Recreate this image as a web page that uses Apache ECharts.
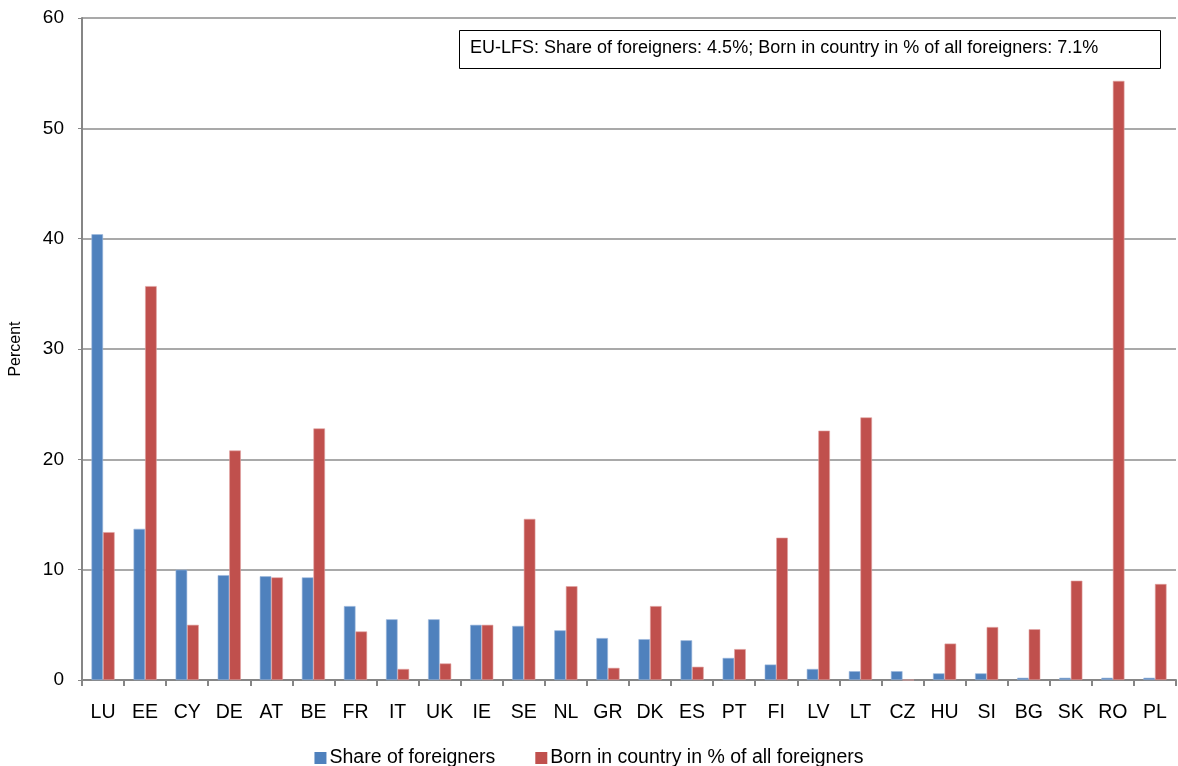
<!DOCTYPE html>
<html>
<head>
<meta charset="utf-8">
<script src="https://cdn.jsdelivr.net/npm/echarts@6/dist/echarts.min.js"></script>
<style>
  html, body { margin: 0; padding: 0; background: #fff; }
  #chart { width: 1178px; height: 766px; }
</style>
</head>
<body>
<div id="chart"></div>
<script>
// Countries, ordered by share of foreigners
const categories = ['LU','EE','CY','DE','AT','BE','FR','IT','UK','IE','SE','NL','GR','DK','ES','PT','FI','LV','LT','CZ','HU','SI','BG','SK','RO','PL'];

// Share of foreigners in the population (%)
const shareForeigners = [40.4, 13.7, 10.0, 9.5, 9.4, 9.3, 6.7, 5.5, 5.5, 5.0, 4.9, 4.5, 3.8, 3.7, 3.6, 2.0, 1.4, 1.0, 0.8, 0.8, 0.6, 0.6, 0.2, 0.2, 0.2, 0.2];

// Foreigners born in the country, in % of all foreigners
const bornInCountry = [13.4, 35.7, 5.0, 20.8, 9.3, 22.8, 4.4, 1.0, 1.5, 5.0, 14.6, 8.5, 1.1, 6.7, 1.2, 2.8, 12.9, 22.6, 23.8, 0.0, 3.3, 4.8, 4.6, 9.0, 54.3, 8.7];

// Y axis ticks
const yTicks = [0, 10, 20, 30, 40, 50, 60];

const seriesNames = ['Share of foreigners', 'Born in country in % of all foreigners'];
const noteText = 'EU-LFS: Share of foreigners: 4.5%; Born in country in % of all foreigners: 7.1%';

const FONT = '"Liberation Sans", Arial, sans-serif';
const chart = echarts.init(document.getElementById('chart'), null, { renderer: 'canvas' });

chart.setOption({
  animation: false,
  backgroundColor: '#ffffff',
  textStyle: { fontFamily: FONT, color: '#000' },
  grid: { left: 81, right: 2, top: 18, bottom: 86, containLabel: false },
  legend: {
    top: 743,
    left: 'center',
    itemWidth: 12,
    itemHeight: 12,
    itemGap: 40,
    icon: 'rect',
    itemStyle: { borderWidth: 0 },
    textStyle: { fontFamily: FONT, fontSize: 19.5, color: '#000', padding: [0, 0, 0, -2] },
    data: seriesNames
  },
  xAxis: {
    type: 'category',
    data: categories,
    boundaryGap: true,
    axisLine: { lineStyle: { color: '#868686', width: 2 } },
    axisTick: { show: true, alignWithLabel: false, length: 6, lineStyle: { color: '#868686', width: 2 } },
    axisLabel: { fontFamily: FONT, fontSize: 19.5, color: '#000', margin: 23, interval: 0 }
  },
  yAxis: {
    type: 'value',
    min: yTicks[0],
    max: yTicks[yTicks.length - 1],
    interval: 10,
    name: 'Percent',
    nameLocation: 'middle',
    nameGap: 58,
    nameRotate: 90,
    nameTextStyle: { fontFamily: FONT, fontSize: 16, color: '#000' },
    axisLine: { show: true, lineStyle: { color: '#868686', width: 2 } },
    axisTick: { show: true, length: 4, lineStyle: { color: '#868686', width: 1 } },
    axisLabel: { fontFamily: FONT, fontSize: 19, color: '#000', margin: 18 },
    splitLine: { show: true, lineStyle: { color: '#8c8c8c', width: 1.5 } }
  },
  series: [
    {
      name: seriesNames[0],
      type: 'bar',
      data: shareForeigners,
      barGap: '0%',
      barCategoryGap: '45%',
      itemStyle: { color: '#4F81BD', borderColor: '#9DB9DE', borderWidth: 0.6 }
    },
    {
      name: seriesNames[1],
      type: 'bar',
      data: bornInCountry,
      barGap: '0%',
      barCategoryGap: '45%',
      itemStyle: { color: '#C0504D', borderColor: '#E0A3A1', borderWidth: 0.6 }
    }
  ],
  graphic: [
    {
      type: 'rect',
      left: 459,
      top: 30,
      shape: { width: 701, height: 38 },
      style: { fill: '#fff', stroke: '#000', lineWidth: 1 },
      z: 10
    },
    {
      type: 'text',
      left: 470,
      top: 39,
      style: { text: noteText, fontFamily: FONT, fontSize: 18, fill: '#000' },
      z: 11
    }
  ]
});
</script>
</body>
</html>
